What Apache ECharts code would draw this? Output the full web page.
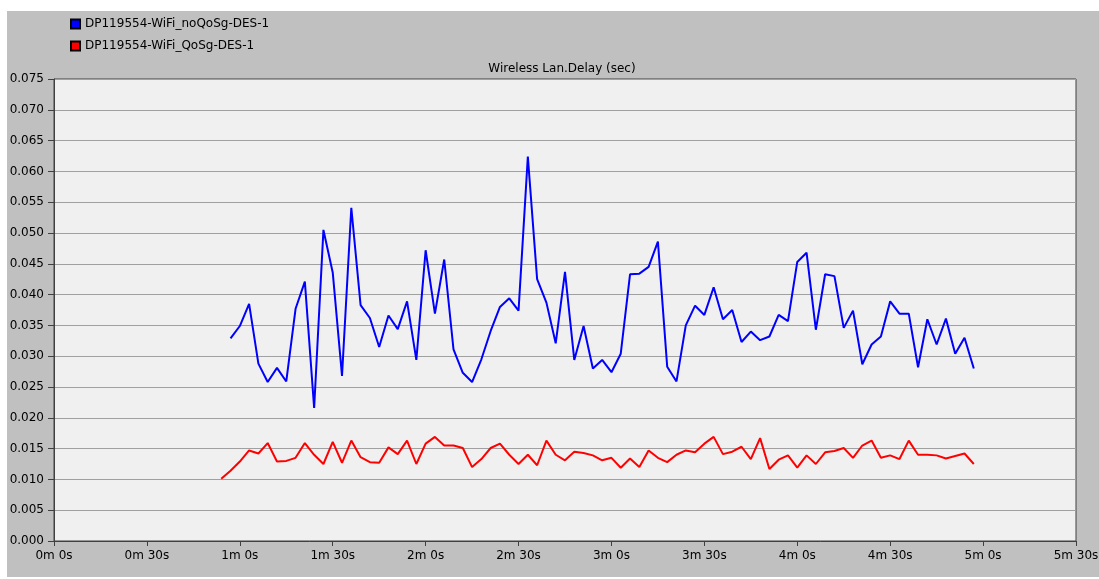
<!DOCTYPE html>
<html>
<head>
<meta charset="utf-8">
<script src="https://cdn.jsdelivr.net/npm/echarts@6/dist/echarts.min.js"></script>
<style>
    html, body { margin: 0; padding: 0; background: #fff; }
    #delayChart { position: absolute; left: 7px; top: 11px; width: 1092px; height: 566px; }
</style>
</head>
<body>
<div id="delayChart"></div>
<script>
// 数据
var seriesNames = ['DP119554-WiFi_noQoSg-DES-1', 'DP119554-WiFi_QoSg-DES-1'];
var chartTitle = 'Wireless Lan.Delay (sec)';

var noQosTimes = [57, 60, 63, 66, 69, 72, 75, 78, 81, 84, 87, 90, 93, 96, 99, 102, 105, 108, 111, 114,
    117, 120, 123, 126, 129, 132, 135, 138, 141, 144, 147, 150, 153, 156, 159, 162, 165, 168, 171, 174,
    177, 180, 183, 186, 189, 192, 195, 198, 201, 204, 207, 210, 213, 216, 219, 222, 225, 228, 231, 234,
    237, 240, 243, 246, 249, 252, 255, 258, 261, 264, 267, 270, 273, 276, 279, 282, 285, 288, 291, 294, 297];
var noQosDelay = [0.0329, 0.0349, 0.0385, 0.0288, 0.0258, 0.0281, 0.0259, 0.0377, 0.0421, 0.0216,
    0.0505, 0.0436, 0.0268, 0.0541, 0.0383, 0.0362, 0.0315, 0.0366, 0.0344, 0.0389,
    0.0294, 0.0472, 0.0369, 0.0457, 0.0311, 0.0273, 0.0258, 0.0295, 0.0341, 0.0380,
    0.0394, 0.0374, 0.0624, 0.0425, 0.0387, 0.0321, 0.0437, 0.0294, 0.0349, 0.0280,
    0.0294, 0.0274, 0.0304, 0.0433, 0.0434, 0.0445, 0.0486, 0.0283, 0.0259, 0.0350,
    0.0382, 0.0367, 0.0412, 0.0360, 0.0375, 0.0323, 0.0340, 0.0326, 0.0332, 0.0367,
    0.0357, 0.0453, 0.0468, 0.0343, 0.0433, 0.0430, 0.0346, 0.0374, 0.0287, 0.0319,
    0.0332, 0.0389, 0.0369, 0.0369, 0.0282, 0.0360, 0.0319, 0.0361, 0.0304, 0.0330, 0.0280];

var qosTimes = [54, 57, 60, 63, 66, 69, 72, 75, 78, 81, 84, 87, 90, 93, 96, 99, 102, 105, 108, 111, 114,
    117, 120, 123, 126, 129, 132, 135, 138, 141, 144, 147, 150, 153, 156, 159, 162, 165, 168, 171, 174,
    177, 180, 183, 186, 189, 192, 195, 198, 201, 204, 207, 210, 213, 216, 219, 222, 225, 228, 231, 234,
    237, 240, 243, 246, 249, 252, 255, 258, 261, 264, 267, 270, 273, 276, 279, 282, 285, 288, 291, 294, 297];
var qosDelay = [0.0101, 0.0114, 0.0129, 0.0147, 0.0142, 0.0159, 0.0129, 0.0130, 0.0135, 0.0159,
    0.0140, 0.0125, 0.0161, 0.0127, 0.0163, 0.0136, 0.0128, 0.0127, 0.0152, 0.0141,
    0.0163, 0.0125, 0.0158, 0.0169, 0.0155, 0.0155, 0.0151, 0.0120, 0.0133, 0.0151,
    0.0158, 0.0140, 0.0125, 0.0140, 0.0123, 0.0163, 0.0140, 0.0131, 0.0145, 0.0143,
    0.0139, 0.0131, 0.0135, 0.0119, 0.0134, 0.0120, 0.0147, 0.0135, 0.0128, 0.0140,
    0.0147, 0.0144, 0.0158, 0.0169, 0.0141, 0.0145, 0.0153, 0.0133, 0.0167, 0.0117,
    0.0132, 0.0139, 0.0119, 0.0139, 0.0125, 0.0144, 0.0146, 0.0151, 0.0135, 0.0155,
    0.0163, 0.0135, 0.0139, 0.0133, 0.0163, 0.0140, 0.0140, 0.0139, 0.0134, 0.0138,
    0.0142, 0.0125];

var xMin = 0, xMax = 330, xStep = 30;
var yMin = 0, yMax = 0.075, yStep = 0.005;

function pairUp(ts, vs) {
    var out = [];
    for (var i = 0; i < ts.length; i++) {
        out.push([ts[i], vs[i]]);
    }
    return out;
}

// 时间格式 0m 30s
function fmtTime(v) {
    var m = Math.floor(v / 60);
    var s = Math.round(v - m * 60);
    return m + 'm ' + s + 's';
}

var dom = document.getElementById('delayChart');
var myChart = echarts.init(dom);
var fontName = 'DejaVu Sans';

var option = {
    backgroundColor: '#c0c0c0',
    animation: false,
    graphic: [{
        type: 'text',
        x: 555,
        y: 58,
        style: {
            text: chartTitle,
            textAlign: 'center',
            textVerticalAlign: 'middle',
            fontFamily: fontName,
            fontSize: 12,
            fill: '#000'
        }
    }],
    legend: {
        orient: 'vertical',
        left: 63,
        top: 7,
        padding: 0,
        itemWidth: 9,
        itemHeight: 9,
        itemGap: 10,
        icon: 'rect',
        data: seriesNames,
        textStyle: { fontFamily: fontName, fontSize: 12, color: '#000' }
    },
    grid: {
        left: 47,
        top: 68,
        right: 23,
        bottom: 36,
        outerBoundsMode: 'none',
        containLabel: false,
        show: true,
        backgroundColor: '#f0f0f0',
        borderColor: '#404040',
        borderWidth: 1
    },
    xAxis: {
        type: 'value',
        min: xMin,
        max: xMax,
        interval: xStep,
        axisLine: { show: true, lineStyle: { color: '#404040', width: 1 } },
        axisTick: { show: true, length: 5, lineStyle: { color: '#404040' } },
        splitLine: { show: false },
        axisLabel: {
            formatter: fmtTime,
            margin: 9,
            fontFamily: fontName,
            fontSize: 12,
            color: '#000',
            showMinLabel: true,
            showMaxLabel: true
        }
    },
    yAxis: {
        type: 'value',
        min: yMin,
        max: yMax,
        interval: yStep,
        axisLine: { show: true, lineStyle: { color: '#404040', width: 1 } },
        axisTick: { show: true, length: 6, lineStyle: { color: '#404040' } },
        splitLine: { show: true, lineStyle: { color: '#a0a0a0', width: 1 } },
        axisLabel: {
            formatter: function (v) { return v.toFixed(3); },
            margin: 10,
            fontFamily: fontName,
            fontSize: 12,
            color: '#000'
        }
    },
    series: [
        {
            name: seriesNames[0],
            type: 'line',
            data: pairUp(noQosTimes, noQosDelay),
            showSymbol: false,
            color: '#0000ff',
            itemStyle: { color: '#0000ff', borderColor: '#000', borderWidth: 1 },
            lineStyle: { color: '#0000ff', width: 2 }
        },
        {
            name: seriesNames[1],
            type: 'line',
            data: pairUp(qosTimes, qosDelay),
            showSymbol: false,
            color: '#ff0000',
            itemStyle: { color: '#ff0000', borderColor: '#000', borderWidth: 1 },
            lineStyle: { color: '#ff0000', width: 2 }
        }
    ]
};

if (option && typeof option === "object") {
    myChart.setOption(option, true);
}
</script>
</body>
</html>
